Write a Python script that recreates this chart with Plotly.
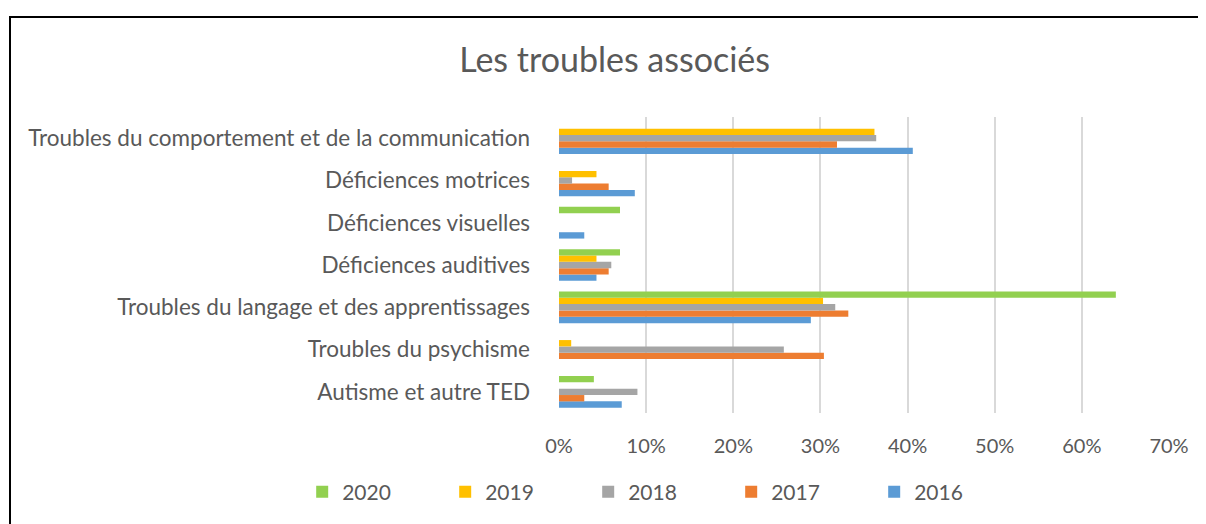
import plotly.graph_objects as go

categories = ["Autisme et autre TED", "Troubles du psychisme",
              "Troubles du langage et des apprentissages", "Déficiences auditives",
              "Déficiences visuelles", "Déficiences motrices",
              "Troubles du comportement et de la communication"]

years = ["2016", "2017", "2018", "2019", "2020"]
v2016 = [0.072, 0.0, 0.289, 0.043, 0.029, 0.087, 0.406]
v2017 = [0.029, 0.304, 0.332, 0.057, 0.0, 0.057, 0.319]
v2018 = [0.090, 0.258, 0.317, 0.060, 0.0, 0.015, 0.364]
v2019 = [0.0, 0.014, 0.303, 0.043, 0.0, 0.043, 0.362]
v2020 = [0.040, 0.0, 0.639, 0.070, 0.070, 0.0, 0.0]

colors = ["#5B9BD5", "#ED7D31", "#A5A5A5", "#FFC000", "#92D050"]
text_color = "#595959"
font_family = "Lato"

fig = go.Figure()
for name, vals, col in zip(years, [v2016, v2017, v2018, v2019, v2020], colors):
    fig.add_trace(go.Bar(y=categories, x=vals, name=name, orientation="h",
                         marker=dict(color=col, line=dict(width=0))))

# the html page adds an 8px body margin, so margins are shifted back by 8px
fig.update_layout(
    width=1206, height=524,
    paper_bgcolor="white", plot_bgcolor="white",
    barmode="group", bargap=0.25, bargroupgap=0,
    margin=dict(l=551, r=45, t=109, b=119, autoexpand=False),
    font=dict(family=font_family, color=text_color, size=20),
    title=dict(text="Les troubles associés", x=0.503, xanchor="center",
               y=0.9, yanchor="middle",
               font=dict(size=34, family=font_family, color=text_color)),
    legend=dict(orientation="h", traceorder="reversed",
                x=-0.421, xanchor="left", y=-0.267, yanchor="middle",
                entrywidth=98, font=dict(size=21, color=text_color)),
    showlegend=True,
)
fig.update_xaxes(range=[0, 0.7], dtick=0.1, tickformat=".0%",
                 showgrid=True, gridcolor="#D9D9D9", gridwidth=2,
                 zeroline=False, showline=False, ticks="",
                 ticklabelstandoff=19, tickfont=dict(size=20))
fig.update_yaxes(showgrid=False, showline=False, ticks="",
                 ticklabelstandoff=28, tickfont=dict(size=22.5))

# outer border of the chart area (right and bottom edges lie outside the picture)
fig.add_shape(type="rect", xref="paper", yref="paper",
              x0=-0.9, x1=1.3, y0=-0.6, y1=1.338,
              line=dict(color="black", width=2), layer="below")

fig.write_html("out.html")
